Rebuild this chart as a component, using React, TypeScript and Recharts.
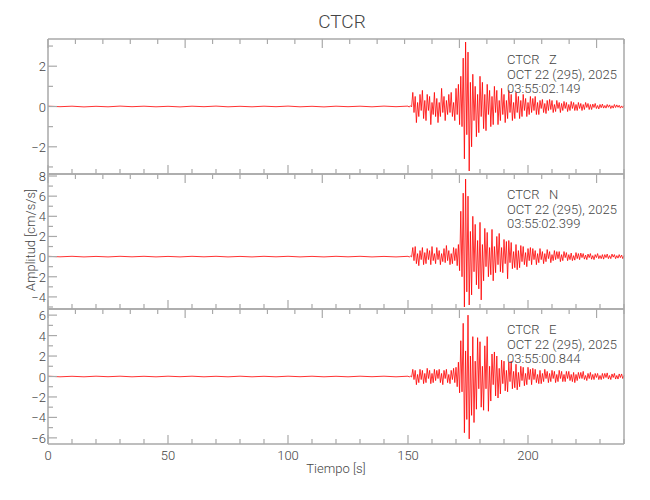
import React from 'react';
import { LineChart, Line, XAxis, YAxis } from 'recharts';

// sampling of the traces (seconds)
const PRE_STEP = 5;
const EVENT_START = 150;
const EVENT_STEP = 0.5;

// quiet part before the P onset, 0..145 s
const preZ = [0.015, -0.01, 0.015, -0.02, 0.01, -0.015, 0.02, -0.01, 0.015, -0.015, 0.01, -0.02, 0.015, -0.01, 0.02, -0.015, 0.01, -0.015, 0.015, -0.01, 0.02, -0.015, 0.01, -0.02, 0.015, -0.01, 0.015, -0.015, 0.02, -0.01];
const preN = [0.03, -0.02, 0.03, -0.03, 0.02, -0.03, 0.03, -0.02, 0.03, -0.03, 0.02, -0.03, 0.03, -0.02, 0.03, -0.03, 0.02, -0.03, 0.03, -0.02, 0.03, -0.03, 0.02, -0.03, 0.03, -0.02, 0.03, -0.03, 0.02, -0.03];
const preE = [0.03, -0.03, 0.02, -0.03, 0.03, -0.02, 0.03, -0.03, 0.02, -0.03, 0.03, -0.02, 0.03, -0.03, 0.02, -0.03, 0.03, -0.03, 0.02, -0.03, 0.03, -0.02, 0.03, -0.03, 0.02, -0.03, 0.03, -0.02, 0.03, -0.03];

// 150..240 s every 0.5 s, cm/s/s
const eventZ = [
  0.02, -0.03, 0.04, -0.02,
  0.7, -0.3, 0.5, -0.8, 0.2, -0.5, 0.6, -0.2, 0.8, -0.6,
  0.3, -0.7, 0.6, -0.2, 0.5, -0.9, 0.2, -0.4, 0.7, -0.5,
  0.4, -0.8, 0.2, -0.5, 0.9, -0.3, 0.5, -0.7, 0.3, -0.4,
  0.6, -0.3, 0.7, -0.5, 0.2, -0.7, 0.9, -0.4, 1.1, -0.9,
  1.5, -1.0, 2.4, -2.6, 3.2, -1.4, 2.7, -3.2, 1.2, -2.0,
  1.6, -0.7, 1.0, -1.5, 0.6, -1.3, 1.5, -0.5, 1.2, -1.1,
  0.6, -1.2, 1.1, -0.4, 0.8, -1.0, 0.5, -0.9, 1.0, -0.3,
  0.8, -0.9, 0.3, -0.7, 0.9, -0.4, 0.6, -0.8, 0.3, -0.6,
  0.8, -0.3, 0.6, -0.7, 0.2, -0.6, 0.7, -0.3, 0.5, -0.6,
  0.3, -0.5, 0.6, -0.2, 0.4, -0.5, 0.2, -0.4, 0.5, -0.3,
  0.4, -0.2, 0.5, -0.4, 0.2, -0.4, 0.3, -0.1, 0.35, -0.3,
  0.15, -0.35, 0.3, -0.2, 0.35, -0.15, 0.3, -0.3, 0.1, -0.25,
  0.3, -0.1, 0.2, -0.3, 0.15, -0.2, 0.25, -0.1, 0.2, -0.25,
  0.1, -0.2, 0.25, -0.1, 0.2, -0.2, 0.1, -0.2, 0.2, -0.1,
  0.15, -0.2, 0.1, -0.15, 0.2, -0.05, 0.15, -0.15, 0.1, -0.15,
  0.12, -0.05, 0.15, -0.1, 0.05, -0.12, 0.1, -0.06, 0.12, -0.08,
  0.05, -0.08, 0.1, -0.04, 0.08, -0.1, 0.04, -0.08, 0.1, -0.05,
  0.08, -0.04, 0.06, -0.08, 0.03, -0.06, 0.05,
];

const eventN = [
  0.03, -0.04, 0.05, -0.03,
  0.9, -0.4, 1.0, -0.7, 0.3, -0.9, 0.6, -0.3, 0.9, -0.8,
  0.4, -0.7, 0.8, -0.3, 0.6, -0.8, 1.0, -0.4, 0.3, -0.7,
  0.9, -0.3, 0.6, -0.8, 0.3, -0.5, 0.8, -0.6, 1.1, -0.4,
  0.6, -0.8, 0.3, -0.7, 0.9, -0.4, 0.8, -0.9, 1.2, -1.4,
  4.5, -2.0, 6.3, -5.0, 7.7, -3.5, 6.0, -4.8, 2.5, -3.8,
  4.0, -1.5, 3.2, -2.8, 1.6, -3.2, 3.4, -4.3, 1.2, -2.4,
  2.8, -1.0, 2.4, -2.0, 0.9, -1.8, 2.7, -2.4, 1.0, -1.6,
  2.0, -0.8, 2.3, -1.5, 0.9, -1.6, 1.7, -0.7, 1.5, -2.2,
  1.6, -0.6, 1.4, -1.2, 0.5, -1.1, 1.2, -1.3, 0.6, -1.1,
  1.1, -0.5, 1.0, -0.8, 0.4, -1.0, 0.8, -0.4, 0.9, -0.8,
  0.8, -0.3, 0.6, -0.8, 0.3, -0.6, 0.8, -0.3, 0.5, -0.7,
  0.3, -0.5, 0.7, -0.2, 0.5, -0.6, 0.2, -0.4, 0.6, -0.3,
  0.5, -0.2, 0.5, -0.5, 0.2, -0.4, 0.5, -0.1, 0.4, -0.4,
  0.2, -0.3, 0.35, -0.4, 0.1, -0.35, 0.4, -0.2, 0.3, -0.3,
  0.35, -0.1, 0.3, -0.25, 0.15, -0.3, 0.25, -0.1, 0.3, -0.25,
  0.1, -0.3, 0.2, -0.1, 0.3, -0.2, 0.1, -0.2, 0.2, -0.25,
  0.2, -0.1, 0.25, -0.2, 0.1, -0.2, 0.25, -0.05, 0.2, -0.2,
  0.1, -0.15, 0.2, -0.1, 0.15, -0.2, 0.1,
];

const eventE = [
  0.03, -0.04, 0.03, -0.05,
  0.7, -0.3, 0.6, -0.8, 0.2, -0.6, 0.7, -0.3, 0.6, -0.7,
  0.3, -0.6, 0.8, -0.2, 0.6, -0.7, 0.3, -0.6, 0.7, -0.4,
  0.6, -0.2, 0.7, -0.6, 0.3, -0.8, 0.6, -0.2, 0.7, -0.6,
  0.2, -0.7, 0.6, -0.3, 0.8, -0.6, 0.9, -1.0, 1.4, -1.6,
  3.5, -1.5, 5.2, -5.5, 2.5, -4.2, 6.0, -6.1, 2.0, -3.8,
  3.9, -4.5, 1.5, -3.2, 3.8, -1.2, 3.4, -3.0, 1.0, -3.3,
  3.0, -1.2, 3.9, -3.4, 1.0, -2.4, 2.2, -0.8, 2.4, -1.9,
  2.0, -2.1, 0.8, -1.7, 1.6, -0.7, 1.5, -1.4, 0.6, -1.5,
  1.4, -0.5, 1.5, -1.2, 0.5, -1.1, 1.2, -1.3, 0.4, -1.0,
  1.0, -0.4, 0.9, -0.9, 0.3, -0.8, 0.9, -0.3, 0.7, -0.8,
  0.8, -0.3, 0.7, -0.6, 0.2, -0.7, 0.6, -0.7, 0.3, -0.5,
  0.7, -0.2, 0.5, -0.6, 0.3, -0.5, 0.6, -0.2, 0.5, -0.6,
  0.2, -0.5, 0.6, -0.2, 0.5, -0.5, 0.2, -0.5, 0.5, -0.2,
  0.5, -0.4, 0.2, -0.5, 0.4, -0.6, 0.2, -0.4, 0.4, -0.2,
  0.4, -0.2, 0.5, -0.3, 0.1, -0.4, 0.3, -0.2, 0.4, -0.3,
  0.2, -0.3, 0.3, -0.1, 0.3, -0.3, 0.1, -0.3, 0.3, -0.2,
  0.3, -0.1, 0.35, -0.25, 0.1, -0.3, 0.25, -0.1, 0.3, -0.25,
  0.1, -0.25, 0.25, -0.1, 0.25, -0.2, 0.1,
];

const xTicks = [0, 10, 20, 30, 40, 50, 60, 70, 80, 90, 100, 110, 120, 130, 140, 150, 160, 170, 180, 190, 200, 210, 220, 230, 240];
const yTicksZ = [-3, -2, -1, 0, 1, 2, 3];
const yTicksN = [-5, -4, -3, -2, -1, 0, 1, 2, 3, 4, 5, 6, 7, 8];
const yTicksE = [-6, -5, -4, -3, -2, -1, 0, 1, 2, 3, 4, 5, 6];

const station = 'CTCR';
const channels = ['Z', 'N', 'E'];
const dateLine = 'OCT 22 (295), 2025';
const startTimes = ['03:55:02.149', '03:55:02.399', '03:55:00.844'];

const FONT = "Roboto, 'DejaVu Sans', sans-serif";
const GRAY = '#a9a9a9';
const INK = '#454545';
const RED = '#ff0000';

const PLOT_LEFT = 48;
const PLOT_RIGHT = 26;
const PANEL_H = 135;
const PAD = 12;

function buildTrace(pre: number[], ev: number[]) {
  return [
    ...pre.map((v, i) => ({ t: i * PRE_STEP, v })),
    ...ev.map((v, i) => ({ t: EVENT_START + i * EVENT_STEP, v })),
  ];
}

const fmt = (v: number) => (v < 0 ? '\u2212' + Math.abs(v) : String(v));

function BottomTick(props: any) {
  const { x, y, payload, showLabel } = props;
  const major = payload.value % 50 === 0;
  return (
    <g>
      <line x1={x} x2={x} y1={y} y2={y - (major ? 9 : 5)} stroke={GRAY} strokeWidth={1.2} />
      {showLabel && major && payload.value < 240 ? (
        <text x={x} y={y + 16} textAnchor="middle" fill={INK} fontSize={13} fontWeight={300} fontFamily={FONT}>
          {payload.value}
        </text>
      ) : null}
    </g>
  );
}

function TopTick(props: any) {
  const { x, y, payload } = props;
  const major = payload.value % 50 === 0;
  return <line x1={x} x2={x} y1={y} y2={y + (major ? 9 : 5)} stroke={GRAY} strokeWidth={1.2} />;
}

function LeftTick(props: any) {
  const { x, y, payload } = props;
  const major = payload.value % 2 === 0;
  return (
    <g>
      <line x1={x} x2={x + (major ? 9 : 5)} y1={y} y2={y} stroke={GRAY} strokeWidth={1.2} />
      {major ? (
        <text x={x - 2} y={y + 5} textAnchor="end" fill={INK} fontSize={13} fontWeight={300} fontFamily={FONT}>
          {fmt(payload.value)}
        </text>
      ) : null}
    </g>
  );
}

function RightTick(props: any) {
  const { x, y, payload } = props;
  const major = payload.value % 2 === 0;
  return <line x1={x} x2={x - (major ? 9 : 5)} y1={y} y2={y} stroke={GRAY} strokeWidth={1.2} />;
}

interface PanelProps {
  data: { t: number; v: number }[];
  domain: [number, number];
  yTicks: number[];
  top: number;
  last?: boolean;
}

function Panel({ data, domain, yTicks, top, last }: PanelProps) {
  const bottomPad = last ? 40 : PAD;
  const axisLine = { stroke: GRAY, strokeWidth: 1.5 };
  // each axis takes 1px from the margin (a 0px axis is not drawn)
  return (
    <div style={{ position: 'absolute', left: 0, top: top - PAD }}>
      <LineChart
        width={650}
        height={PAD + PANEL_H + bottomPad}
        data={data}
        margin={{ top: PAD - 1, right: PLOT_RIGHT - 1, bottom: bottomPad - 1, left: PLOT_LEFT - 1 }}
      >
        <XAxis
          dataKey="t"
          type="number"
          domain={[0, 240]}
          ticks={xTicks}
          interval={0}
          height={1}
          tickSize={0}
          tickMargin={0}
          tickLine={false}
          axisLine={axisLine}
          tick={<BottomTick showLabel={last} />}
        />
        <XAxis
          xAxisId="top"
          orientation="top"
          type="number"
          domain={[0, 240]}
          ticks={xTicks}
          interval={0}
          height={1}
          tickSize={0}
          tickMargin={0}
          tickLine={false}
          axisLine={axisLine}
          tick={<TopTick />}
        />
        <YAxis
          type="number"
          domain={domain}
          ticks={yTicks}
          interval={0}
          width={1}
          tickSize={0}
          tickMargin={0}
          tickLine={false}
          axisLine={axisLine}
          tick={<LeftTick />}
        />
        <YAxis
          yAxisId="right"
          orientation="right"
          type="number"
          domain={domain}
          ticks={yTicks}
          interval={0}
          width={1}
          tickSize={0}
          tickMargin={0}
          tickLine={false}
          axisLine={axisLine}
          tick={<RightTick />}
        />
        <Line
          type="linear"
          dataKey="v"
          stroke={RED}
          strokeWidth={0.8}
          dot={false}
          isAnimationActive={false}
        />
      </LineChart>
    </div>
  );
}

const textStyle: React.CSSProperties = {
  position: 'absolute',
  fontFamily: FONT,
  fontWeight: 300,
  color: INK,
  whiteSpace: 'pre',
};

export default function App() {
  const panelTops = [39, 174, 309];
  const traces = [buildTrace(preZ, eventZ), buildTrace(preN, eventN), buildTrace(preE, eventE)];
  const domains: [number, number][] = [[-3.35, 3.35], [-5.2, 8.2], [-6.6, 6.6]];
  const ticks = [yTicksZ, yTicksN, yTicksE];

  return (
    <div style={{ position: 'absolute', left: 0, top: 0, width: 650, height: 500, background: '#fff' }}>
      <div style={{ ...textStyle, left: 0, width: 684, top: 10, textAlign: 'center', fontSize: 19 }}>{station}</div>
      {panelTops.map((top, i) => (
        <Panel key={i} data={traces[i]} domain={domains[i]} yTicks={ticks[i]} top={top} last={i === 2} />
      ))}
      {panelTops.map((top, i) => (
        <div key={'t' + i} style={{ ...textStyle, left: 507, top: top + 14, fontSize: 13, lineHeight: '14.5px' }}>
          {`${station}   ${channels[i]}\n${dateLine}\n${startTimes[i]}`}
        </div>
      ))}
      <div
        style={{
          ...textStyle,
          left: 30,
          top: 240,
          fontSize: 13,
          transform: 'translate(-50%, -50%) rotate(-90deg)',
        }}
      >
        Amplitud [cm/s/s]
      </div>
      <div style={{ ...textStyle, left: 0, width: 672, top: 461, textAlign: 'center', fontSize: 13 }}>Tiempo [s]</div>
    </div>
  );
}
